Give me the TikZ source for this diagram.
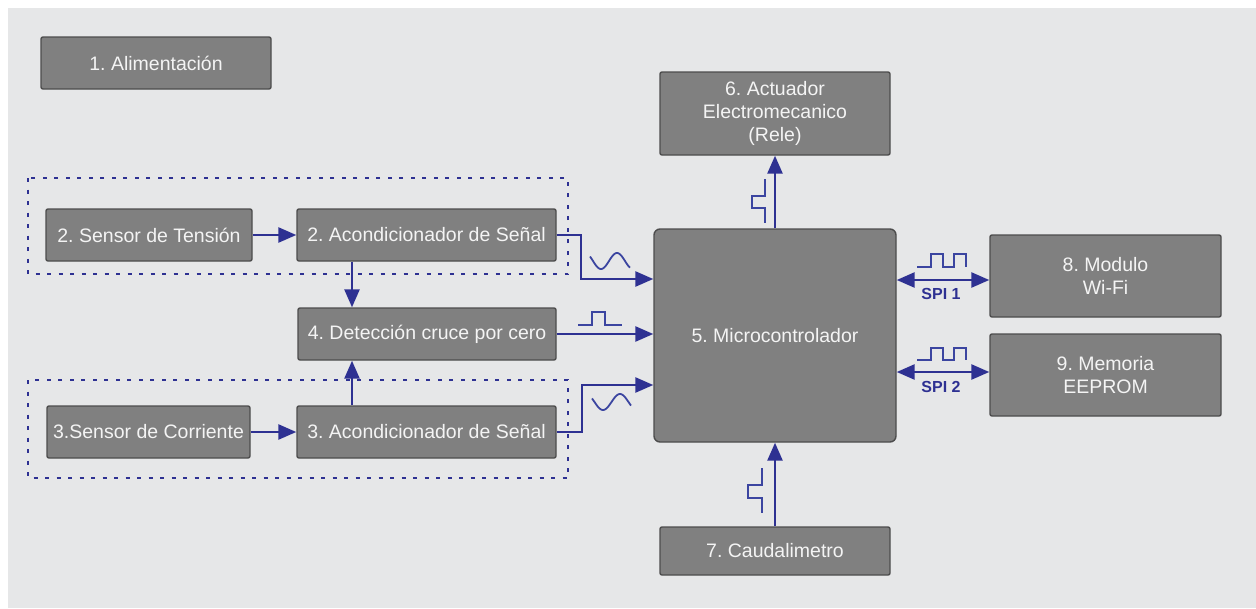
\documentclass[tikz,border=0pt]{standalone}
\usepackage{fontspec}
\setmainfont{Liberation Sans}
\usetikzlibrary{arrows.meta}
\definecolor{bg}{HTML}{E6E7E8}
\definecolor{boxfill}{HTML}{808080}
\definecolor{boxline}{HTML}{4D4D4D}
\definecolor{boxtext}{HTML}{F4F4F4}
\definecolor{wire}{HTML}{2E3192}
\definecolor{glyph}{HTML}{3B45A0}
\frenchspacing
\begin{document}
\begin{tikzpicture}[x=1pt,y=-1pt,
  blk/.style={draw=boxline, fill=boxfill, line width=1.4pt, rounded corners=2pt,
    text=boxtext, font=\fontsize{19.5}{23}\selectfont, align=center, inner sep=0pt},
  tip/.tip={Triangle[length=18pt,width=15pt]},
  conn/.style={draw=wire, line width=2.6pt, -tip},
  biconn/.style={draw=wire, line width=2.6pt, tip-tip},
  sig/.style={draw=glyph, line width=1.8pt},
  group/.style={draw=wire, line width=2.8pt, dash pattern=on 4pt off 7.5pt},
  spi/.style={text=wire, font=\fontsize{16}{18}\selectfont\bfseries}]
\useasboundingbox (0,0) rectangle (1256,608);
\fill[white] (0,0) rectangle (1256,608);
\fill[bg] (8,8) rectangle (1256,608);

% dashed groups around each sensing chain
\draw[group] (28,178) rectangle (568,274);
\draw[group] (28,380) rectangle (568,478);

% blocks
\node[blk, minimum width=230pt, minimum height=52pt] (alim) at (156,63) {1. Alimentación};
\node[blk, minimum width=206pt, minimum height=52pt] (sv) at (149,235) {2. Sensor de Tensión};
\node[blk, minimum width=259pt, minimum height=52pt] (ac2) at (426.5,235) {2. Acondicionador de Señal};
\node[blk, minimum width=258pt, minimum height=52pt] (zc) at (427,334) {4. Detección cruce por cero};
\node[blk, minimum width=203pt, minimum height=52pt] (sc) at (148.5,432) {3.Sensor de Corriente};
\node[blk, minimum width=259pt, minimum height=52pt] (ac3) at (426.5,432) {3. Acondicionador de Señal};
\node[blk, rounded corners=6pt, minimum width=242pt, minimum height=213pt] (mcu) at (775,335.5) {5. Microcontrolador};
\node[blk, minimum width=230pt, minimum height=83pt] (act) at (775,113.5) {6. Actuador\\Electromecanico\\(Rele)};
\node[blk, minimum width=230pt, minimum height=48pt] (cau) at (775,551) {7. Caudalimetro};
\node[blk, minimum width=231pt, minimum height=82pt] (wifi) at (1105.5,276) {8. Modulo\\Wi-Fi};
\node[blk, minimum width=231pt, minimum height=82pt] (eep) at (1105.5,375) {9. Memoria\\EEPROM};

% connectors
\draw[conn] (sv.east) -- (ac2.west);
\draw[conn] (sc.east) -- (ac3.west);
\draw[conn] (ac2.south -| 352,0) -- (zc.north -| 352,0);
\draw[conn] (ac3.north -| 352,0) -- (zc.south -| 352,0);
\draw[conn] (ac2.east) -- (581,235) -- (581,279) -- (mcu.west |- 0,279);
\draw[conn] (zc.east) -- (mcu.west |- zc.east);
\draw[conn] (ac3.east) -- (582,432) -- (582,385) -- (mcu.west |- 0,385);
\draw[conn] (mcu.north) -- (act.south);
\draw[conn] (cau.north) -- (mcu.south);
\draw[biconn] (mcu.east |- 0,280) -- (wifi.west |- 0,280);
\draw[biconn] (mcu.east |- 0,372) -- (eep.west |- 0,372);

% SPI labels
\node[spi] (spi1) at (941,294) {SPI 1};
\node[spi] (spi2) at (941,387) {SPI 2};

% signal shapes beside the connectors
\draw[sig] plot[domain=590:630, samples=60, smooth] (\x, {261+8*sin(360*(\x-593)/32)});
\draw[sig] plot[domain=592:631, samples=60, smooth] (\x, {402+8*sin(360*(\x-594.5)/34)});
\draw[sig] (578,325) -- (592,325) -- (592,312) -- (605,312) -- (605,325) -- (622,325);
\draw[sig] (765,179) -- (765,196) -- (752,196) -- (752,208) -- (765,208) -- (765,223);
\draw[sig] (762,468) -- (762,485) -- (748,485) -- (748,498) -- (762,498) -- (762,513);
\draw[sig] (917,267) -- (931,267) -- (931,254) -- (943,254) -- (943,267) -- (954,267) -- (954,254) -- (966,254) -- (966,267);
\draw[sig] (917,360) -- (931,360) -- (931,348) -- (943,348) -- (943,360) -- (954,360) -- (954,348) -- (966,348) -- (966,360);
\end{tikzpicture}
\end{document}
